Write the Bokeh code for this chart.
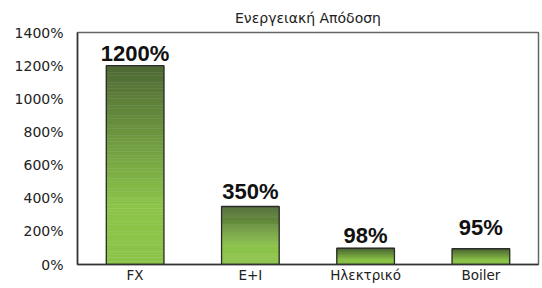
import numpy as np
from bokeh.plotting import figure
from bokeh.models import ColumnDataSource, FactorRange, Range1d, FixedTicker, CustomJSTickFormatter
from bokeh.core.properties import value
from bokeh.embed import file_html
from bokeh.resources import INLINE

categories = ["FX", "E+I", "Ηλεκτρικό", "Boiler"]
values = [1200, 350, 98, 95]
labels = ["1200%", "350%", "98%", "95%"]
y_ticks = [0, 200, 400, 600, 800, 1000, 1200, 1400]
label_lift = [0, 3, 0, 9]

FONT = "DejaVu Sans"
BFONT = "Liberation Sans"

p = figure(width=542, height=288, x_range=FactorRange(*categories, range_padding=0),
           y_range=Range1d(0, 1400), output_backend="svg", toolbar_location=None,
           title="Ενεργειακή Απόδοση", min_border_left=77, min_border_right=4,
           min_border_top=31, min_border_bottom=24)

p.title.align = "center"
p.title.text_font = FONT
p.title.text_font_size = "14px"
p.title.text_font_style = "normal"
p.title.text_color = "#222222"
p.title.offset = 0
p.title.standoff = 14

# gradient bars as stacked slices
N = 60
top_c = np.array([0x4e, 0x69, 0x35], dtype=float)
bot_c = np.array([0x8c, 0xc4, 0x4a], dtype=float)
xs, bots, tops, cols = [], [], [], []
for cat, v in zip(categories, values):
    for k in range(N):
        b = v * k / N
        t = v * (k + 1) / N
        f = 1 - (k + 0.5) / N  # 0 at top, 1 at bottom
        g = min(f / 0.7, 1.0)
        c = top_c + (bot_c - top_c) * g
        xs.append(cat)
        bots.append(b)
        tops.append(t)
        cols.append("#%02x%02x%02x" % tuple(int(round(x)) for x in c))
grad = ColumnDataSource(dict(x=xs, bottom=bots, top=tops, color=cols))
p.vbar(x="x", bottom="bottom", top="top", width=0.5, source=grad,
       fill_color="color", line_color="color", line_width=0.5)

src = ColumnDataSource(dict(x=categories, top=values, label=labels,
                            off=[-l for l in label_lift]))
p.vbar(x="x", top="top", width=0.5, source=src, fill_color=None,
       line_color="#2b2b2b", line_width=1.3)

p.text(x="x", y="top", text="label", source=src, y_offset="off",
       text_align="center", text_baseline="bottom",
       text_font=value(BFONT), text_font_size="22px", text_font_style="bold",
       text_color="#111111")

p.xgrid.visible = False
p.ygrid.visible = False
p.outline_line_color = "#666666"
p.outline_line_width = 1.5

p.yaxis.ticker = FixedTicker(ticks=y_ticks)
p.yaxis.formatter = CustomJSTickFormatter(code="return tick + '%';")
for ax in (p.xaxis[0], p.yaxis[0]):
    ax.major_tick_line_color = None
    ax.minor_tick_line_color = None
    ax.major_tick_out = 0
    ax.major_tick_in = 0
    ax.axis_line_color = "#333333"
    ax.axis_line_width = 1.5
    ax.major_label_text_font = FONT
    ax.major_label_text_color = "#222222"
p.yaxis.major_label_text_font_size = "14px"
p.xaxis.major_label_text_font_size = "13.5px"
p.yaxis.major_label_standoff = 14
p.xaxis.major_label_standoff = 2

open("out.html", "w").write(file_html(p, INLINE))
